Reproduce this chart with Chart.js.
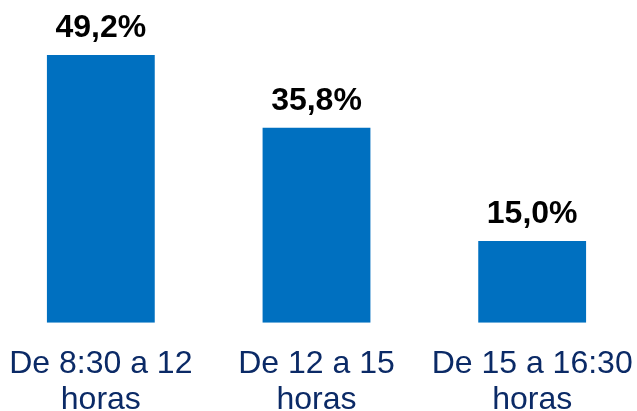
<!DOCTYPE html>
<html>
<head>
<meta charset="utf-8">
<script src="https://cdn.jsdelivr.net/npm/chart.js@4"></script>
<style>
  html, body { margin: 0; padding: 0; background: #fff; overflow: hidden; }
  /* plot is a bit wider than the window so the outer bars sit where they should */
  #wrap { width: 647px; height: 411px; margin-left: -7px; }
</style>
</head>
<body>
<div id="wrap"><canvas id="chart"></canvas></div>
<script>
const categories = [["De 8:30 a 12", "horas"], ["De 12 a 15", "horas"], ["De 15 a 16:30", "horas"]];
const shares = [49.2, 35.8, 15.0];

const fmt = (v) => v.toFixed(1).replace(".", ",") + "%";

// draw the bold value above each bar
const valueLabels = {
  id: "valueLabels",
  afterDatasetsDraw(chart) {
    const ctx = chart.ctx;
    const meta = chart.getDatasetMeta(0);
    ctx.save();
    ctx.font = "bold 32px 'Liberation Sans', Arial, sans-serif";
    ctx.fillStyle = "#000";
    ctx.textAlign = "center";
    ctx.textBaseline = "alphabetic";
    meta.data.forEach((bar, i) => {
      ctx.fillText(fmt(shares[i]), bar.x, bar.y - 18);
    });
    ctx.restore();
  },
};

new Chart(document.getElementById("chart"), {
  type: "bar",
  data: {
    labels: categories,
    datasets: [
      {
        data: shares,
        backgroundColor: "#0070C0",
        borderWidth: 0,
        barPercentage: 0.5,
        categoryPercentage: 1,
      },
    ],
  },
  options: {
    responsive: true,
    maintainAspectRatio: false,
    animation: false,
    layout: { padding: { left: 0, right: 0, top: 0, bottom: -22 } },
    plugins: {
      legend: { display: false },
      tooltip: { enabled: false },
    },
    scales: {
      x: {
        grid: { display: false },
        border: { display: false },
        afterFit(scale) {
          scale.paddingLeft = 0;
          scale.paddingRight = 0;
        },
        ticks: {
          color: "#0B2A66",
          font: { family: "'Liberation Sans', Arial, sans-serif", size: 32, lineHeight: 1.13 },
          padding: 15,
          autoSkip: false,
          maxRotation: 0,
          minRotation: 0,
        },
      },
      y: {
        display: false,
        min: 0,
        max: 59.3,
      },
    },
  },
  plugins: [valueLabels],
});
</script>
</body>
</html>
